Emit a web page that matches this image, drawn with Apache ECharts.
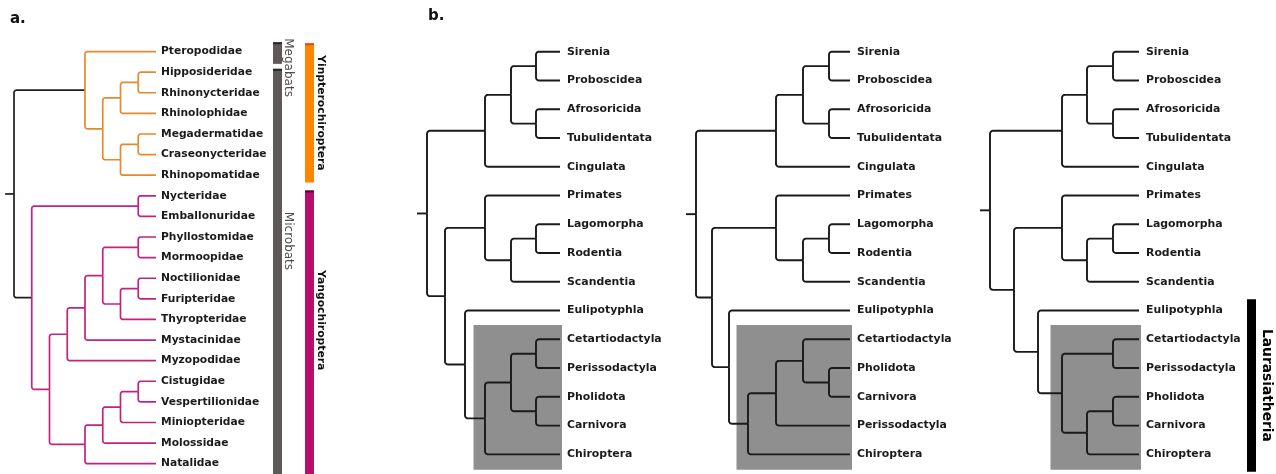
<!DOCTYPE html>
<html>
<head>
<meta charset="utf-8">
<script src="https://cdn.jsdelivr.net/npm/echarts@6/dist/echarts.min.js"></script>
<style>
html, body { margin: 0; padding: 0; background: #fff; }
#chart { width: 1276px; height: 474px; }
</style>
</head>
<body>
<div id="chart"></div>
<script>
// ---- panel a: bat families (cladogram, ages = node rank) ----
var yinpterochiroptera = ["Pteropodidae", [[["Hipposideridae", "Rhinonycteridae"], "Rhinolophidae"], [["Megadermatidae", "Craseonycteridae"], "Rhinopomatidae"]]];
var yangochiroptera = [["Nycteridae", "Emballonuridae"], [[[[["Phyllostomidae", "Mormoopidae"], [["Noctilionidae", "Furipteridae"], "Thyropteridae"]], "Mystacinidae"], "Myzopodidae"], [[[["Cistugidae", "Vespertilionidae"], "Miniopteridae"], "Molossidae"], "Natalidae"]]];
var batTree = [yinpterochiroptera, yangochiroptera];
var batAges = [0, 1, 2, 3, 4, 5, 6, 7, 8];

var batGroupNames = ["Megabats", "Microbats", "Yinpterochiroptera", "Yangochiroptera"];
var batGroupSpans = [["Pteropodidae", "Pteropodidae"], ["Hipposideridae", "Natalidae"], ["Pteropodidae", "Rhinopomatidae"], ["Nycteridae", "Natalidae"]];

// ---- panel b: three alternative placements of placental orders ----
var afrotheriaCingulata = [[["Sirenia", "Proboscidea"], ["Afrosoricida", "Tubulidentata"]], "Cingulata"];
var euarchontoglires = ["Primates", [["Lagomorpha", "Rodentia"], "Scandentia"]];
var scrotifera1 = [[["Cetartiodactyla", "Perissodactyla"], ["Pholidota", "Carnivora"]], "Chiroptera"];
var scrotifera2 = [[["Cetartiodactyla", ["Pholidota", "Carnivora"]], "Perissodactyla"], "Chiroptera"];
var scrotifera3 = [["Cetartiodactyla", "Perissodactyla"], [["Pholidota", "Carnivora"], "Chiroptera"]];
var mammalTrees = [
    [afrotheriaCingulata, [euarchontoglires, ["Eulipotyphla", scrotifera1]]],
    [afrotheriaCingulata, [euarchontoglires, ["Eulipotyphla", scrotifera2]]],
    [afrotheriaCingulata, [euarchontoglires, ["Eulipotyphla", scrotifera3]]]
];
// node ages by node rank (leaves = 0)
var mammalAges = [
    [0, 2.4, 4.9, 7.5, 9.5, 11.5, 13.3],
    [0, 2.1, 4.7, 7.4, 10.2, 12.1, 13.8, 15.4],
    [0, 2.6, 5.2, 7.7, 10.1, 12.5, 14.9]
];
var highlightPair = ["Cetartiodactyla", "Chiroptera"];
var laurasiatheriaSpan = ["Eulipotyphla", "Chiroptera"];

var FONT = "'DejaVu Sans', Verdana, sans-serif";

// ---- layout helpers ----
function buildTree(tree, ages, stub, rootColor, cladeColors) {
    var leaves = [], nodes = [], edges = [];
    function walk(n) {
        if (typeof n === "string") {
            var lf = { name: n, h: 0, y: leaves.length, lo: leaves.length, hi: leaves.length };
            leaves.push(lf);
            return lf;
        }
        var kids = n.map(walk);
        var nd = { ref: n, kids: kids };
        nd.h = Math.max.apply(null, kids.map(function (k) { return k.h; })) + 1;
        nd.y = (kids[0].y + kids[kids.length - 1].y) / 2;
        nd.lo = kids[0].lo;
        nd.hi = kids[kids.length - 1].hi;
        nodes.push(nd);
        return nd;
    }
    var root = walk(tree);
    function place(nd, color) {
        nd.x = ages[nd.h];
        if (!nd.kids) return;
        nd.kids.forEach(function (k) {
            edges.push({ x1: nd.x, y1: nd.y, x2: ages[k.h], y2: k.y, color: color, name: k.kids ? null : k.name });
            var kc = color;
            (cladeColors || []).forEach(function (c) { if (c[0] === k.ref) kc = c[1]; });
            place(k, kc);
        });
    }
    place(root, rootColor);
    edges.push({ x1: root.x + stub, y1: root.y, x2: root.x, y2: root.y, color: rootColor, name: null });
    function idx(name) {
        for (var i = 0; i < leaves.length; i++) if (leaves[i].name === name) return i;
        return -1;
    }
    function mrca(a, b) {
        var ia = idx(a), ib = idx(b), best = null;
        nodes.forEach(function (nd) {
            if (nd.lo <= Math.min(ia, ib) && nd.hi >= Math.max(ia, ib) && (!best || nd.h < best.h)) best = nd;
        });
        return best;
    }
    return { root: root, leaves: leaves, edges: edges, idx: idx, mrca: mrca, maxX: root.x + stub };
}

function elbow(p, c, radius) {
    var dy = c[1] - p[1], dx = c[0] - p[0];
    if (Math.abs(dy) < 0.5) return [[p[0], p[1]], [c[0], c[1]]];
    var r = Math.min(radius, Math.abs(dy), Math.abs(dx));
    var s = dy > 0 ? 1 : -1;
    var pts = [[p[0], p[1]]];
    for (var i = 0; i <= 6; i++) {
        var t = (Math.PI / 2) * i / 6;
        pts.push([p[0] + r - r * Math.cos(t), c[1] - s * r + s * r * Math.sin(t)]);
    }
    pts.push([c[0], c[1]]);
    return pts;
}

function treeSeries(t, gi, st) {
    return {
        type: "custom", xAxisIndex: gi, yAxisIndex: gi, z: 3, silent: true,
        data: t.edges.map(function (e) { return [e.x1, e.y1, e.x2, e.y2]; }),
        encode: { x: [0, 2], y: [1, 3] },
        renderItem: function (params, api) {
            var e = t.edges[params.dataIndex];
            var p = api.coord([e.x1, e.y1]), c = api.coord([e.x2, e.y2]);
            var kids = [{
                type: "polyline",
                shape: { points: elbow(p, c, st.radius) },
                style: { stroke: e.color, lineWidth: st.lineWidth, fill: null, lineJoin: "round" }
            }];
            if (e.name) {
                kids.push({
                    type: "text", x: c[0] + st.gap, y: c[1],
                    style: {
                        text: e.name, fill: "#1b1b1b", fontFamily: FONT, fontWeight: "bold",
                        fontSize: st.fontSize, align: "left", verticalAlign: "middle",
                        textAlign: "left", textVerticalAlign: "middle"
                    }
                });
            }
            return { type: "group", children: kids };
        }
    };
}

// vertical group bars with rotated labels; span in leaf indices, x in px
function barSeries(gi, spans, styles, names) {
    return {
        type: "custom", xAxisIndex: gi, yAxisIndex: gi, z: 4, silent: true,
        data: spans.map(function (s) { return [0, s[0] - 0.5, 0, s[1] + 0.5]; }),
        encode: { x: [0, 2], y: [1, 3] },
        renderItem: function (params, api) {
            var st = styles[params.dataIndex];
            var top = api.coord([0, api.value(1)])[1] + st.padTop;
            var bot = api.coord([0, api.value(3)])[1] - st.padBottom;
            var ly, align;
            if (st.labelMode === "top") { ly = top + st.labelOffset; align = "left"; }
            else { ly = (top + Math.min(bot, 474)) / 2 + st.labelOffset; align = "center"; }
            var kids = [
                { type: "rect", shape: { x: st.x, y: top, width: st.width, height: bot - top }, style: { fill: st.fill } },
                {
                    type: "text", x: st.x + st.labelDx, y: ly, rotation: -Math.PI / 2,
                    style: {
                        text: names[params.dataIndex], fill: st.labelColor, fontFamily: FONT,
                        fontWeight: st.labelWeight, fontSize: st.labelSize,
                        align: align, verticalAlign: "middle", textAlign: align, textVerticalAlign: "middle"
                    }
                }
            ];
            if (st.cap) kids.push({ type: "rect", shape: { x: st.x, y: top, width: st.width, height: 2 }, style: { fill: st.cap } });
            return { type: "group", children: kids };
        }
    };
}

// ---- build ----
var batLayout = buildTree(batTree, batAges, 0.5, "#1e1e1e", [[yinpterochiroptera, "#e58a2c"], [yangochiroptera, "#c2237f"]]);
var mammalLayouts = mammalTrees.map(function (t, i) { return buildTree(t, mammalAges[i], 1, "#1a1a1a", null); });

var batPx = 17.75, batRight = 156, batRow = 20.9, batFirstRow = 51.7;
var mPx = 10, mRight = [560, 850, 1139], mRow = 28.76, mFirstRow = 51.7;

var grids = [], xAxes = [], yAxes = [], series = [];
var batW = batLayout.maxX * batPx;
grids.push({ left: batRight - batW, width: batW, top: batFirstRow - batRow / 2, height: 21 * batRow });
xAxes.push({ type: "value", gridIndex: 0, min: 0, max: batLayout.maxX, inverse: true, show: false });
yAxes.push({ type: "value", gridIndex: 0, min: -0.5, max: 20.5, inverse: true, show: false });
series.push(treeSeries(batLayout, 0, { radius: 2.5, lineWidth: 1.7, gap: 5, fontSize: 10.7 }));

var batSpansIdx = batGroupSpans.map(function (s) { return [batLayout.idx(s[0]), batLayout.idx(s[1])]; });
var batBarStyles = [
    { x: 273, width: 9, fill: "#5f5859", cap: "#2a2526", padTop: 1, padBottom: -2, labelMode: "top", labelOffset: -4, labelDx: 15, labelColor: "#524b4c", labelWeight: "normal", labelSize: 12 },
    { x: 273, width: 9, fill: "#5f5859", cap: "#2a2526", padTop: 7, padBottom: 0, labelMode: "top", labelOffset: 143, labelDx: 15, labelColor: "#524b4c", labelWeight: "normal", labelSize: 12 },
    { x: 305, width: 9, fill: "#ff8400", cap: "#e8462a", padTop: 2, padBottom: 3, labelMode: "center", labelOffset: 0, labelDx: 16, labelColor: "#111", labelWeight: "bold", labelSize: 10.8 },
    { x: 305, width: 9, fill: "#b80f6e", cap: "#4e0a2e", padTop: 5, padBottom: 0, labelMode: "center", labelOffset: -12, labelDx: 16, labelColor: "#111", labelWeight: "bold", labelSize: 10.8 }
];
series.push(barSeries(0, batSpansIdx, batBarStyles, batGroupNames));

mammalLayouts.forEach(function (t, i) {
    var gi = i + 1;
    var w = t.maxX * mPx;
    grids.push({ left: mRight[i] - w, width: w, top: mFirstRow - mRow / 2, height: 15 * mRow });
    xAxes.push({ type: "value", gridIndex: gi, min: 0, max: t.maxX, inverse: true, show: false });
    yAxes.push({ type: "value", gridIndex: gi, min: -0.5, max: 14.5, inverse: true, show: false });
    var hl = t.mrca(highlightPair[0], highlightPair[1]);
    series.push({
        type: "custom", xAxisIndex: gi, yAxisIndex: gi, z: 1, silent: true,
        data: [[hl.x, hl.lo - 0.5, 0, hl.hi + 0.5]],
        encode: { x: [0, 2], y: [1, 3] },
        renderItem: function (params, api) {
            var a = api.coord([api.value(0), api.value(1)]);
            var b = api.coord([api.value(2), api.value(3)]);
            var x0 = a[0] - 11.5, x1 = b[0] + 2;
            return { type: "rect", shape: { x: x0, y: a[1], width: x1 - x0, height: b[1] - a[1] + 1 }, style: { fill: "#8f8f8f" } };
        }
    });
    series.push(treeSeries(t, gi, { radius: 3, lineWidth: 1.9, gap: 7, fontSize: 10.9 }));
});

var l3 = mammalLayouts[2];
series.push(barSeries(3, [[l3.idx(laurasiatheriaSpan[0]), l3.idx(laurasiatheriaSpan[1])]], [
    { x: 1247, width: 9, fill: "#000", cap: null, padTop: 3, padBottom: -3, labelMode: "center", labelOffset: 0, labelDx: 19.5, labelColor: "#000", labelWeight: "bold", labelSize: 13.8 }
], ["Laurasiatheria"]));

var chart = echarts.init(document.getElementById("chart"), null, { renderer: "canvas" });
chart.setOption({
    animation: false,
    backgroundColor: "#fff",
    grid: grids,
    xAxis: xAxes,
    yAxis: yAxes,
    series: series,
    graphic: [
        { type: "text", x: 10, y: 19, style: { text: "a.", fontFamily: FONT, fontWeight: "bold", fontSize: 15, fill: "#111", verticalAlign: "middle", textVerticalAlign: "middle" } },
        { type: "text", x: 428, y: 16, style: { text: "b.", fontFamily: FONT, fontWeight: "bold", fontSize: 15, fill: "#111", verticalAlign: "middle", textVerticalAlign: "middle" } }
    ]
});
</script>
</body>
</html>
